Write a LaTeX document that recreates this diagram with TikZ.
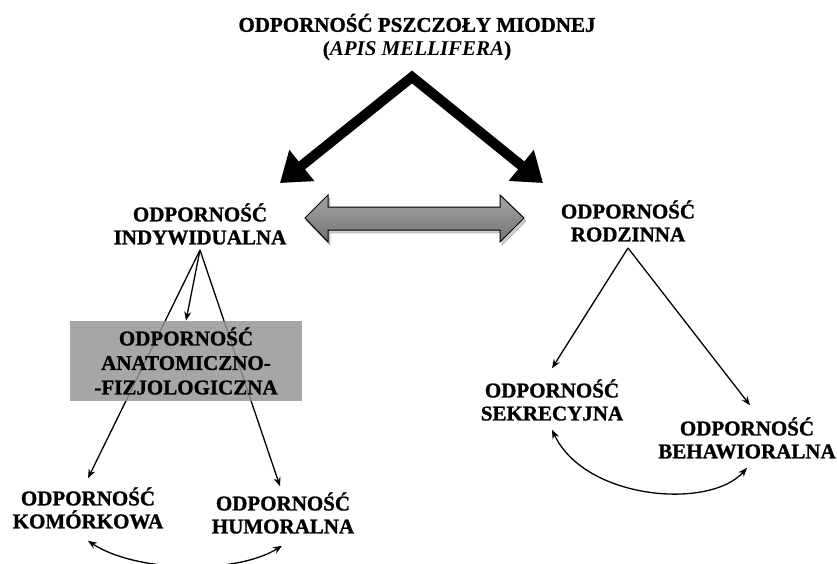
\documentclass[tikz,border=0pt]{standalone}
\usepackage{fontspec}
\setmainfont{Liberation Serif}[BoldFeatures={FakeBold=1.2}]
\usetikzlibrary{arrows.meta,backgrounds}

\tikzset{every picture/.style={line width=0.75pt}}
\tikzset{
  lbl/.style={font=\fontsize{21}{23}\selectfont\bfseries, align=center, inner sep=0.75pt},
  thinarrow/.style={line width=1.3pt, -{Stealth[length=9pt,width=7pt]}},
  bothways/.style={line width=1.3pt, {Stealth[length=9pt,width=7pt]}-{Stealth[length=9pt,width=7pt]}},
  bigarrow/.style={line width=10pt, line join=miter, {Triangle[length=28pt,width=38pt]}-{Triangle[length=28pt,width=38pt]}},
}

\begin{document}
\begin{tikzpicture}[x=1pt,y=1pt,yscale=-1,xscale=1]
\useasboundingbox (0,0) rectangle (837,564);

% Text Node
\node (title) [lbl, font=\fontsize{21}{24}\selectfont\bfseries] at (417,37) {ODPORNOŚĆ PSZCZOŁY MIODNEJ\\(\textit{APIS MELLIFERA})};
% Text Node
\node (indiv) [lbl] at (200,224) {ODPORNOŚĆ\\INDYWIDUALNA};
% Text Node
\node (rodz) [lbl] at (628,221) {ODPORNOŚĆ\\RODZINNA};
% Text Node
\node (anat) [lbl, font=\fontsize{21}{24.5}\selectfont\bfseries, minimum width=232pt, minimum height=80pt, fill={rgb, 255:red, 150; green, 150; blue, 150 }, fill opacity=0.85, text opacity=1] at (186,361) {ODPORNOŚĆ\\ANATOMICZNO-\\-FIZJOLOGICZNA};
% Text Node
\node (kom) [lbl] at (88,508) {ODPORNOŚĆ\\KOMÓRKOWA};
% Text Node
\node (hum) [lbl] at (283,513) {ODPORNOŚĆ\\HUMORALNA};
% Text Node
\node (sek) [lbl] at (552,400) {ODPORNOŚĆ\\SEKRECYJNA};
% Text Node
\node (beh) [lbl] at (747,438) {ODPORNOŚĆ\\BEHAWIORALNA};

\coordinate (apex) at (412,77);
\coordinate (tipL) at (280,183);
\coordinate (tipR) at (543,183);
\coordinate (indivS) at (200,250);
\coordinate (rodzS) at (628,248);

%Big Arrows
\draw [bigarrow, draw=gray, opacity=0.45, shift={(2,3)}] (tipL) -- (apex) -- (tipR) ;
\draw [bigarrow] (tipL) -- (apex) -- (tipR) ;

%Double Arrow
\draw [draw=gray, fill=gray, opacity=0.4, shift={(2,3)}] (305,218) -- (328,195) -- (328,207) -- (500,207) -- (500,195) -- (524,218) -- (500,242) -- (500,230) -- (328,230) -- (328,242) -- cycle ;
\draw [line width=1pt, top color={rgb, 255:red, 165; green, 165; blue, 165 }, bottom color={rgb, 255:red, 115; green, 115; blue, 115 }] (305,218) -- (328,195) -- (328,207) -- (500,207) -- (500,195) -- (524,218) -- (500,242) -- (500,230) -- (328,230) -- (328,242) -- cycle ;

%Straight Lines
\begin{scope}[on background layer]
\draw [thinarrow] (indivS) -- ([yshift=-8pt]kom.north) ;
\draw [thinarrow] (indivS) -- ([xshift=-3pt,yshift=-5pt]hum.north) ;
\end{scope}
\draw [thinarrow] (indivS) -- (anat.north) ;
\draw [thinarrow] (rodzS) -- ([yshift=-10pt]sek.north) ;
\draw [thinarrow] (rodzS) -- ([xshift=3pt,yshift=-11pt]beh.north) ;

%Curve Lines
\draw [bothways] ([yshift=11pt]kom.south) .. controls (135,572) and (235,575) .. ([xshift=-1pt,yshift=11pt]hum.south) ;
\draw [bothways] ([yshift=8pt]sek.south) .. controls (585,500) and (710,510) .. ([yshift=8pt]beh.south) ;

\end{tikzpicture}
\end{document}
